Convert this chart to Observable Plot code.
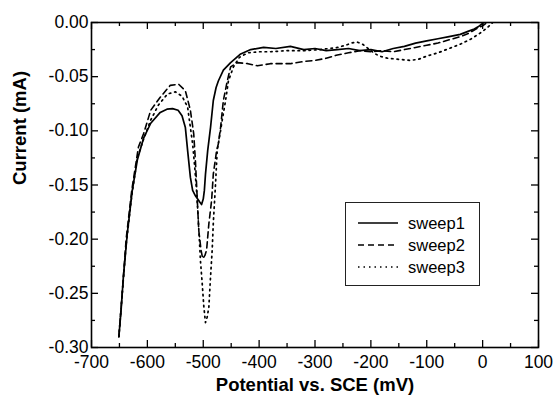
<!DOCTYPE html>
<html>
<head>
<meta charset="utf-8">
<script src="https://cdn.jsdelivr.net/npm/d3@7"></script>
<script src="https://cdn.jsdelivr.net/npm/@observablehq/plot@0.6"></script>
<style>
  html, body { margin: 0; padding: 0; background: #fff; }
  #wrap { position: relative; width: 556px; height: 399px; font-family: "Liberation Sans", Arial, sans-serif; }
  #legend { position: absolute; left: 345px; top: 202px; width: 133px; height: 82px; border: 1px solid #222; background: #fff; }
  .row { position: absolute; left: 0; height: 20px; display: flex; align-items: center; font-size: 16.5px; color: #000; }
  .row svg { margin-left: 12px; margin-right: 10px; }
</style>
</head>
<body>
<div id="wrap"></div>
<script>
// ---- data ----
const seriesNames = ["sweep1", "sweep2", "sweep3"];

const sweep1V = [-651,-647,-643,-636,-627,-618,-607,-594,-577,-565,-555,-545,-538,-532,-528,-523,-519,-514,-510,-506,-503,-500,-498,-496,-492,-487,-482,-477,-473,-464,-451,-433,-415,-392,-370,-344,-320,-300,-280,-260,-240,-220,-200,-180,-160,-140,-120,-100,-80,-60,-40,-25,-15,-8,-3,2];
const sweep1I = [-0.29,-0.265,-0.235,-0.195,-0.155,-0.127,-0.107,-0.093,-0.083,-0.080,-0.0795,-0.081,-0.086,-0.097,-0.118,-0.143,-0.155,-0.160,-0.163,-0.166,-0.168,-0.163,-0.155,-0.140,-0.118,-0.097,-0.072,-0.060,-0.054,-0.044,-0.037,-0.029,-0.025,-0.023,-0.024,-0.022,-0.025,-0.024,-0.026,-0.025,-0.024,-0.026,-0.025,-0.027,-0.024,-0.022,-0.019,-0.017,-0.015,-0.013,-0.011,-0.008,-0.006,-0.004,-0.002,0.000];

const sweep2V = [-651,-645,-638,-628,-616,-607,-594,-577,-559,-544,-532,-523,-517,-514,-512,-510,-508,-504,-501,-497,-494,-490,-485,-482,-476,-473,-469,-464,-457,-451,-439,-420,-403,-380,-344,-320,-300,-280,-260,-240,-220,-200,-180,-160,-140,-120,-100,-80,-60,-40,-25,-12,0,8];
const sweep2I = [-0.29,-0.25,-0.20,-0.155,-0.115,-0.103,-0.081,-0.069,-0.058,-0.057,-0.063,-0.081,-0.103,-0.128,-0.149,-0.171,-0.192,-0.210,-0.218,-0.215,-0.210,-0.186,-0.164,-0.140,-0.118,-0.112,-0.097,-0.072,-0.054,-0.041,-0.037,-0.038,-0.040,-0.038,-0.038,-0.036,-0.035,-0.033,-0.030,-0.028,-0.026,-0.027,-0.026,-0.027,-0.025,-0.023,-0.021,-0.019,-0.016,-0.013,-0.010,-0.006,-0.003,0.000];

const sweep3V = [-651,-645,-638,-628,-618,-607,-594,-580,-564,-550,-538,-528,-523,-519,-515,-512,-510,-507,-505,-502,-499,-496,-493,-490,-487,-484,-482,-478,-475,-470,-466,-460,-455,-446,-435,-420,-400,-380,-350,-320,-290,-260,-245,-235,-225,-215,-205,-195,-185,-170,-150,-130,-115,-100,-80,-60,-40,-20,-5,8,18];
const sweep3I = [-0.29,-0.25,-0.205,-0.16,-0.125,-0.108,-0.090,-0.076,-0.066,-0.064,-0.068,-0.078,-0.097,-0.112,-0.135,-0.155,-0.172,-0.200,-0.220,-0.240,-0.262,-0.277,-0.272,-0.263,-0.235,-0.210,-0.185,-0.149,-0.118,-0.103,-0.090,-0.072,-0.054,-0.041,-0.032,-0.028,-0.027,-0.027,-0.026,-0.026,-0.025,-0.023,-0.021,-0.019,-0.018,-0.020,-0.024,-0.028,-0.031,-0.033,-0.034,-0.035,-0.034,-0.031,-0.028,-0.024,-0.020,-0.015,-0.010,-0.005,0.000];

const xMajor = [-700,-600,-500,-400,-300,-200,-100,0,100];
const xMinor = [-650,-550,-450,-350,-250,-150,-50,50];
const yMajor = [0,-0.05,-0.10,-0.15,-0.20,-0.25,-0.30];
const yMinor = [-0.025,-0.075,-0.125,-0.175,-0.225,-0.275];
const xTitle = "Potential vs. SCE (mV)";
const yTitle = "Current (mA)";

// ---- chart ----
const W = 556, H = 399, mL = 91, mR = 18, mT = 22, mB = 52;
const innerW = W - mL - mR, innerH = H - mT - mB;
const toRows = (V, I) => V.map((v, k) => ({v, i: I[k]}));
const s1 = toRows(sweep1V, sweep1I), s2 = toRows(sweep2V, sweep2I), s3 = toRows(sweep3V, sweep3I);

const chart = Plot.plot({
  width: W, height: H,
  marginLeft: mL, marginRight: mR, marginTop: mT, marginBottom: mB,
  style: {fontFamily: "'Liberation Sans', Arial, sans-serif", fontSize: "17.5px", color: "#000", background: "#fff"},
  x: {domain: [-700, 100]},
  y: {domain: [-0.30, 0.00]},
  marks: [
    Plot.line(s1, {x: "v", y: "i", stroke: "#000", strokeWidth: 1.7, clip: true}),
    Plot.line(s2, {x: "v", y: "i", stroke: "#000", strokeWidth: 1.6, strokeDasharray: "6,4", clip: true}),
    Plot.line(s3, {x: "v", y: "i", stroke: "#000", strokeWidth: 1.7, strokeDasharray: "1.5,4", clip: true}),
    // ticks (inward) on all four sides
    Plot.ruleX(xMajor, {x: d => d, stroke: "#000", strokeWidth: 1.3, insetTop: innerH - 7}),
    Plot.ruleX(xMinor, {x: d => d, stroke: "#000", strokeWidth: 1.3, insetTop: innerH - 4}),
    Plot.ruleX(xMajor, {x: d => d, stroke: "#000", strokeWidth: 1.3, insetBottom: innerH - 7}),
    Plot.ruleX(xMinor, {x: d => d, stroke: "#000", strokeWidth: 1.3, insetBottom: innerH - 4}),
    Plot.ruleY(yMajor, {y: d => d, stroke: "#000", strokeWidth: 1.3, insetRight: innerW - 7}),
    Plot.ruleY(yMinor, {y: d => d, stroke: "#000", strokeWidth: 1.3, insetRight: innerW - 4}),
    Plot.ruleY(yMajor, {y: d => d, stroke: "#000", strokeWidth: 1.3, insetLeft: innerW - 7}),
    Plot.ruleY(yMinor, {y: d => d, stroke: "#000", strokeWidth: 1.3, insetLeft: innerW - 4}),
    Plot.frame({stroke: "#000", strokeWidth: 1.6}),
    Plot.axisX(xMajor, {tickSize: 0, tickPadding: 8, tickFormat: d => String(d), fontSize: 17.5, label: null}),
    Plot.axisY(yMajor, {tickSize: 0, tickPadding: 3, tickFormat: d => d.toFixed(2), fontSize: 17.5, label: null}),
    Plot.text([xTitle], {text: d => d, frameAnchor: "bottom", dy: 43, fontSize: 18.5, fontWeight: "bold", fill: "#000"}),
    Plot.text([yTitle], {text: d => d, frameAnchor: "left", dx: -71, rotate: -90, fontSize: 18.5, fontWeight: "bold", fill: "#000"})
  ]
});
const wrap = document.getElementById("wrap");
wrap.appendChild(chart);

// legend
const legend = document.createElement("div");
legend.id = "legend";
const dashes = ["", "6,4", "1.5,4"];
seriesNames.forEach((name, k) => {
  const row = document.createElement("div");
  row.className = "row";
  row.style.top = (10 + k * 22) + "px";
  row.innerHTML = `<svg width="40" height="6"><line x1="0" y1="3" x2="40" y2="3" stroke="#000" stroke-width="1.6" ${dashes[k] ? `stroke-dasharray="${dashes[k]}"` : ""}/></svg><span>${name}</span>`;
  legend.appendChild(row);
});
wrap.appendChild(legend);
</script>
</body>
</html>
